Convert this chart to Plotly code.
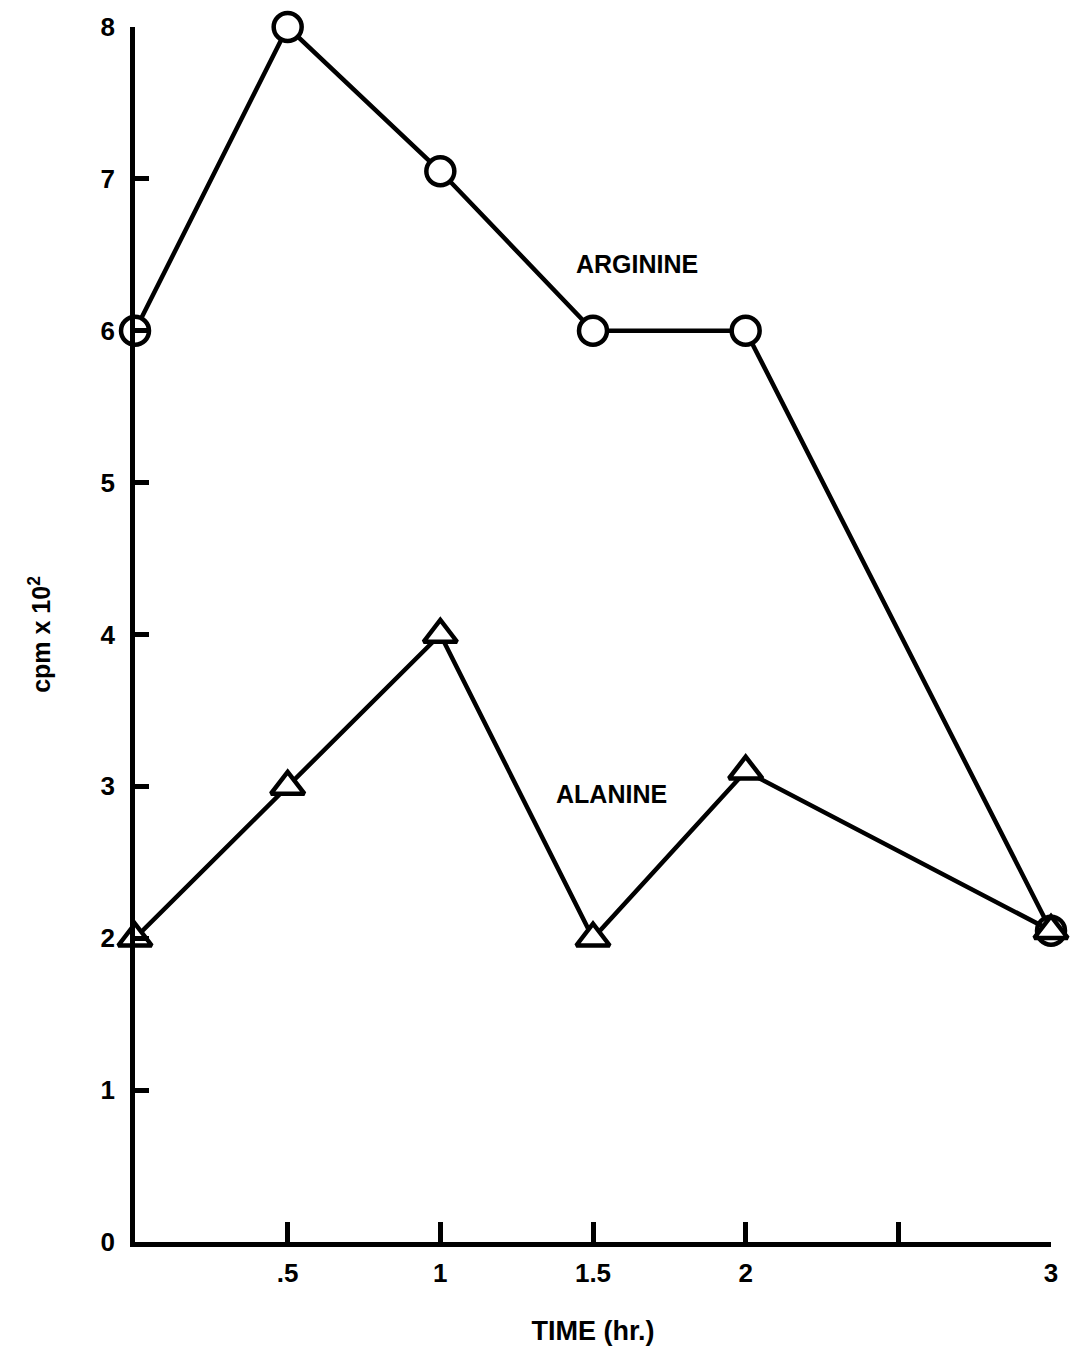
import plotly.graph_objects as go

time_hr = [0, 0.5, 1, 1.5, 2, 3]
arginine = [6.0, 8.0, 7.05, 6.0, 6.0, 2.05]
alanine = [2.0, 3.0, 4.0, 2.0, 3.1, 2.05]

x_tickvals = [0.5, 1, 1.5, 2, 2.5, 3]
x_ticktext = [".5", "1", "1.5", "2", " ", "3"]
y_tickvals = [0, 1, 2, 3, 4, 5, 6, 7, 8]
y_ticktext = ["0", "1", "2", "3", "4", "5", "6", "7", "8"]

FONT = "Liberation Sans"

fig = go.Figure()
fig.add_trace(go.Scatter(
    x=time_hr, y=arginine, mode="lines+markers", name="ARGININE",
    line=dict(color="black", width=4.5),
    marker=dict(symbol="circle", size=28, color="white", line=dict(color="black", width=4.5)),
    cliponaxis=False,
))
fig.add_trace(go.Scatter(
    x=time_hr, y=alanine, mode="lines+markers", name="ALANINE",
    line=dict(color="black", width=4.5),
    marker=dict(symbol="triangle-up", size=29, color="white", line=dict(color="black", width=4.5)),
    cliponaxis=False,
))

fig.add_annotation(x=1.645, y=6.44, text="<b>ARGININE</b>", showarrow=False,
                   font=dict(family=FONT, size=25, color="black"), xanchor="center", yanchor="middle")
fig.add_annotation(x=1.56, y=2.95, text="<b>ALANINE</b>", showarrow=False,
                   font=dict(family=FONT, size=25, color="black"), xanchor="center", yanchor="middle")

fig.update_layout(
    width=1070, height=1364,
    margin=dict(l=135, r=18, t=25, b=122),
    plot_bgcolor="white", paper_bgcolor="white",
    showlegend=False,
    font=dict(family=FONT, color="black"),
    xaxis=dict(
        range=[0, 3], showgrid=False, zeroline=False,
        showline=True, linecolor="black", linewidth=4.5,
        ticks="inside", ticklen=20, tickwidth=4.5, tickcolor="black",
        tickvals=x_tickvals, ticktext=x_ticktext,
        tickfont=dict(family=FONT, size=26, color="black", weight="bold"),
        ticklabelstandoff=4,
        title=dict(text="<b>TIME (hr.)</b>", font=dict(family=FONT, size=27, color="black"), standoff=36),
    ),
    yaxis=dict(
        range=[0, 8], showgrid=False, zeroline=False,
        showline=True, linecolor="black", linewidth=4.5,
        ticks="inside", ticklen=14, tickwidth=4.5, tickcolor="black",
        tickvals=y_tickvals, ticktext=y_ticktext,
        tickfont=dict(family=FONT, size=26, color="black", weight="bold"),
        ticklabelstandoff=10,
        title=dict(text="<b>cpm x 10<sup>2</sup></b>", font=dict(family=FONT, size=25, color="black"), standoff=44),
    ),
)

fig.write_html("out.html")
